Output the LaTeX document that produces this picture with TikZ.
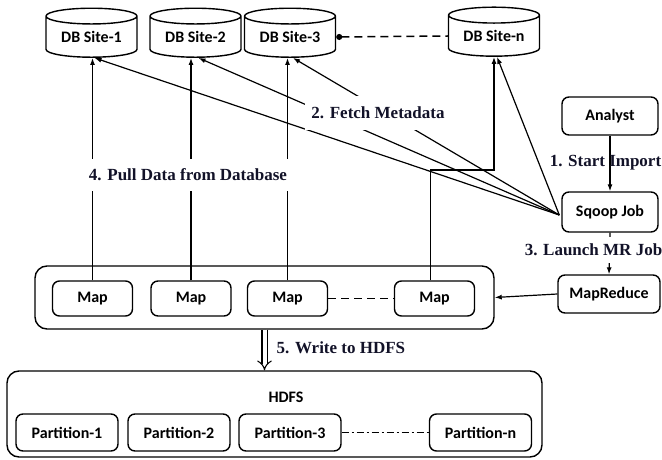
\documentclass[tikz,border=0pt]{standalone}
\usepackage{fontspec}
\setmainfont{Liberation Serif}
\newfontfamily\calfont{Carlito}
\usetikzlibrary{shapes.geometric,arrows.meta}

\definecolor{labelnavy}{RGB}{18,18,40}

\begin{document}
\begin{tikzpicture}[
                x=1pt,y=-1pt,
                line width=1.2pt,
                >={Latex[length=7pt,width=5pt]},
                site/.style={draw,line width=1.4pt,cylinder,shape border rotate=90,aspect=0.26,
                    minimum width=91pt,minimum height=49pt,inner sep=0pt,
                    font=\calfont\bfseries\fontsize{16}{19}\selectfont},
                box/.style={draw,line width=1.4pt,rounded corners=7pt,inner sep=0pt,
                    font=\calfont\bfseries\fontsize{16}{19}\selectfont},
                frame/.style={draw,line width=1.4pt,rounded corners=12pt,inner sep=0pt},
                step label/.style={font=\bfseries\fontsize{17}{20}\selectfont,text=labelnavy},
                blank/.style={fill=white,inner xsep=6pt}
            ]
                \useasboundingbox (0,0) rectangle (662,460);

                \node[site] (db1) at (91.5,37) {DB Site-1};
                \node[site] (db2) at (195.5,37) {DB Site-2};
                \node[site] (db3) at (290,37) {DB Site-3};
                \node[site] (dbn) at (494,36) {DB Site-n};

                \node[box,minimum width=96pt,minimum height=38pt] (analyst) at (610,116) {Analyst};
                \node[box,minimum width=96pt,minimum height=40pt] (sqoop) at (610,212) {Sqoop Job};
                \node[box,minimum width=102pt,minimum height=38pt] (mapred) at (609,294) {MapReduce};

                \node[frame,minimum width=459pt,minimum height=63pt] (maps) at (264.5,297.5) {};
                \foreach \name/\x in {map1/92.5,map2/191,map3/287.5,mapn/434.5}
                    \node[box,minimum width=80pt,minimum height=35pt] (\name) at (\x,298.5) {Map};

                \node[frame,minimum width=535pt,minimum height=86pt] (hdfs) at (274.5,414) {};
                \node[font=\calfont\bfseries\fontsize{16}{19}\selectfont] (hdfstitle) at (286,397) {HDFS};
                \foreach \name/\x/\txt in {part1/67/Partition-1,part2/179/Partition-2,part3/290/Partition-3,partn/480.5/Partition-n}
                    \node[box,minimum width=102pt,minimum height=37pt] (\name) at (\x,432.5) {\txt};

                \draw[line width=1.5pt,dash pattern=on 8pt off 5pt,{Circle[length=6pt]}-] (db3.east) -- (dbn.west);
                \draw[line width=1.8pt,dash pattern=on 8pt off 5pt] (map3.east) -- (mapn.west);
                \draw[line width=1.3pt,dash pattern=on 7pt off 3pt on 2pt off 3pt] (part3.east) -- (partn.west);

                \foreach \i in {1,2,3}
                    \draw[->] (map\i.north) -- (map\i.north |- db\i.south);
                \coordinate (turn) at (0,170);
                \draw[->] ([xshift=-4pt]mapn.north) |- (dbn.south |- turn) -- (dbn.south);

                \foreach \d in {db1,db2,db3,dbn}
                    \draw[->] ([xshift=-2pt,yshift=-3pt]sqoop.west) -- ([xshift=3pt]\d.south);

                \draw[->] (analyst.south) -- (sqoop.north);
                \draw[->] (sqoop.south) -- (mapred.north);
                \draw[->] (mapred.west) -- (maps.east);
                \draw[double,double distance=4pt,line width=1.1pt,-{Implies}] (maps.south) -- (maps.south |- hdfs.north);

                \node[step label,blank,inner ysep=11pt] (fetch) at (378,113) {2. Fetch Metadata};
                \node[step label,blank,inner ysep=9.5pt] (pull) at (188,175) {4. Pull Data from Database};
                \node[step label] (start) at (605.5,163) {1. Start Import};
                \node[step label,blank,inner xsep=2pt,inner ysep=7pt] (launch) at (593.5,250) {3. Launch MR Job};
                \node[step label,anchor=west,inner sep=0pt] (write) at (276,348) {5. Write to HDFS};
            \end{tikzpicture}
\end{document}
